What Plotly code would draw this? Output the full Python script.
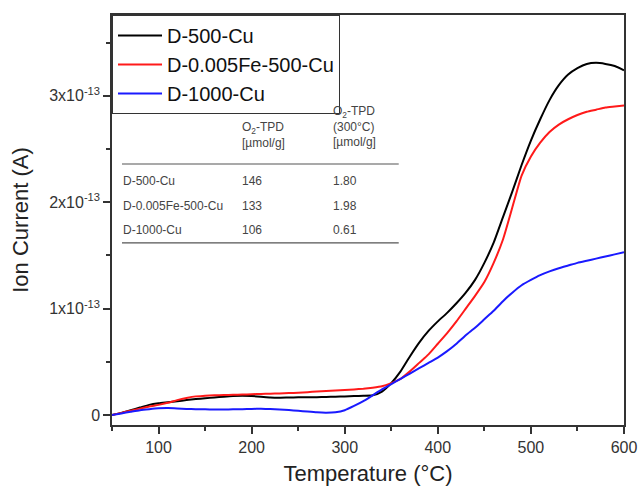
import plotly.graph_objects as go

temperature = list(range(50, 601, 10))

d500cu = [0, 0.02, 0.045, 0.07, 0.095, 0.11, 0.12, 0.13, 0.14, 0.15,
          0.157, 0.165, 0.172, 0.178, 0.18, 0.178, 0.172, 0.165, 0.163, 0.165,
          0.166, 0.168, 0.168, 0.17, 0.172, 0.175, 0.178, 0.18, 0.185, 0.22,
          0.30, 0.41, 0.55, 0.68, 0.79, 0.88, 0.96, 1.05, 1.15, 1.27,
          1.43, 1.62, 1.86, 2.10, 2.35, 2.58, 2.78, 2.96, 3.10, 3.20,
          3.26, 3.30, 3.31, 3.30, 3.28, 3.24]

d0005fe500cu = [0, 0.02, 0.04, 0.06, 0.08, 0.095, 0.115, 0.14, 0.16, 0.175,
                0.18, 0.185, 0.188, 0.19, 0.192, 0.195, 0.198, 0.2, 0.203, 0.206,
                0.21, 0.215, 0.22, 0.225, 0.23, 0.235, 0.24, 0.247, 0.257, 0.27,
                0.30, 0.34, 0.41, 0.49, 0.57, 0.67, 0.77, 0.88, 1.00, 1.12,
                1.25, 1.43, 1.65, 1.95, 2.25, 2.43, 2.56, 2.66, 2.73, 2.78,
                2.82, 2.85, 2.87, 2.89, 2.90, 2.91]

d1000cu = [0, 0.015, 0.03, 0.045, 0.055, 0.063, 0.065, 0.062, 0.057, 0.054,
           0.053, 0.052, 0.052, 0.053, 0.055, 0.057, 0.058, 0.056, 0.052, 0.046,
           0.04, 0.032, 0.025, 0.022, 0.026, 0.045, 0.085, 0.13, 0.185, 0.24,
           0.29, 0.34, 0.39, 0.44, 0.49, 0.54, 0.60, 0.67, 0.75, 0.82,
           0.90, 0.98, 1.07, 1.15, 1.22, 1.27, 1.315, 1.35, 1.38, 1.405,
           1.43, 1.45, 1.47, 1.49, 1.51, 1.53]

series_names = ["D-500-Cu", "D-0.005Fe-500-Cu", "D-1000-Cu"]
series_values = [d500cu, d0005fe500cu, d1000cu]
series_colors = ["#000000", "#ff1a1a", "#1a1aff"]

scale = 1e-13
ytick_vals = [0, 1, 2, 3]
ytick_text = ["0", "1x10<sup>-13</sup>", "2x10<sup>-13</sup>", "3x10<sup>-13</sup>"]

table_rows = ["D-500-Cu", "D-0.005Fe-500-Cu", "D-1000-Cu"]
table_col1 = ["146", "133", "106"]
table_col2 = ["1.80", "1.98", "0.61"]
table_head1 = "O<sub>2</sub>-TPD<br>[µmol/g]"
table_head2 = "O<sub>2</sub>-TPD<br>(300°C)<br>[µmol/g]"

fig = go.Figure()
for name, vals, col in zip(series_names, series_values, series_colors):
    fig.add_trace(go.Scatter(
        x=temperature, y=[v * scale for v in vals], name=name, mode="lines",
        line=dict(color=col, width=2, shape="spline", smoothing=0.5)))

axis_col = "#333333"
fig.update_layout(
    width=638, height=486,
    margin=dict(l=112, r=14, t=15, b=61),
    paper_bgcolor="white", plot_bgcolor="white",
    font=dict(family="Liberation Sans, Arial, sans-serif", color="#222222"),
    showlegend=True,
    legend=dict(x=0, y=1, xanchor="left", yanchor="top",
                bordercolor=axis_col, borderwidth=1, bgcolor="white",
                font=dict(size=20, color="#111111"),
                tracegroupgap=0, itemwidth=44),
    xaxis=dict(range=[50, 600], tickvals=[100, 200, 300, 400, 500, 600],
               automargin=False,
               showline=True, linecolor=axis_col, linewidth=1.5, mirror=True,
               ticks="outside", ticklen=7, tickwidth=1.5, tickcolor=axis_col,
               minor=dict(ticks="outside", ticklen=4, tickwidth=1.5,
                          tickcolor=axis_col, dtick=50, tick0=50),
               showgrid=False, zeroline=False,
               tickfont=dict(size=16, color="#333333"),
               title=dict(text="Temperature (°C)", font=dict(size=22, color="#222222"),
                          standoff=16)),
    yaxis=dict(range=[-0.094 * scale, 3.76 * scale],
               automargin=False,
               tickmode="array", tickvals=[v * scale for v in ytick_vals],
               ticktext=ytick_text,
               showline=True, linecolor=axis_col, linewidth=1.5, mirror=True,
               ticks="outside", ticklen=7, tickwidth=1.5, tickcolor=axis_col,
               minor=dict(ticks="outside", ticklen=4, tickwidth=1.5,
                          tickcolor=axis_col, dtick=0.5 * scale, tick0=0),
               showgrid=False, zeroline=False,
               tickfont=dict(size=16, color="#333333"),
               title=dict(text="Ion Current (A)", font=dict(size=22, color="#222222"),
                          standoff=14)),
)

tfont = dict(size=12, color="#444444")
fig.add_annotation(text=table_head1, x=0.2498, y=0.707, xref="paper", yref="paper",
                   xanchor="left", yanchor="middle", showarrow=False, align="left", font=tfont)
fig.add_annotation(text=table_head2, x=0.4287, y=0.727, xref="paper", yref="paper",
                   xanchor="left", yanchor="middle", showarrow=False, align="left", font=tfont)
row_y = [0.596, 0.535, 0.476]
for label, c1, c2, yy in zip(table_rows, table_col1, table_col2, row_y):
    fig.add_annotation(text=label, x=0.017, y=yy, xref="paper", yref="paper",
                       xanchor="left", yanchor="middle", showarrow=False, font=tfont)
    fig.add_annotation(text=c1, x=0.2498, y=yy, xref="paper", yref="paper",
                       xanchor="left", yanchor="middle", showarrow=False, font=tfont)
    fig.add_annotation(text=c2, x=0.4287, y=yy, xref="paper", yref="paper",
                       xanchor="left", yanchor="middle", showarrow=False, font=tfont)
for yy in [0.6366, 0.444]:
    fig.add_shape(type="line", xref="paper", yref="paper", x0=0.0195, x1=0.56,
                  y0=yy, y1=yy, line=dict(color="#555555", width=1.2))

fig.write_html("out.html")
